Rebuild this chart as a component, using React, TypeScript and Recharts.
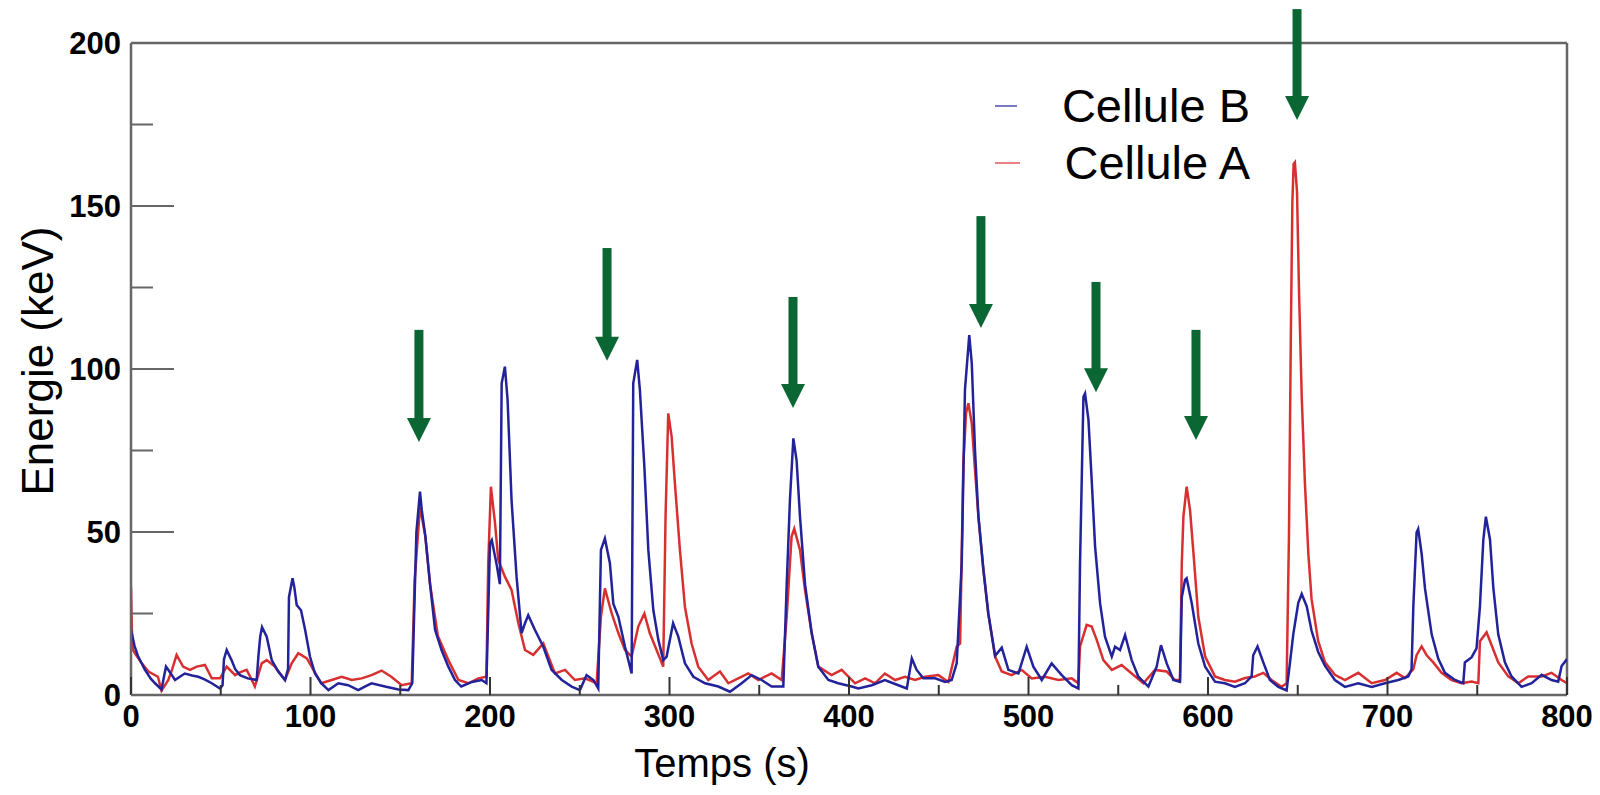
import React from "react";
import { LineChart, Line, XAxis, YAxis, ReferenceLine } from "recharts";

// Cellule B (blue) — time in s, energy in keV
const cellBTimes = [
  0, 2, 4, 7.8, 11, 13.4, 17, 18.5, 19.5, 21.7, 24.5, 27, 30, 34, 37.5, 41, 45, 49.6, 51, 51.8,
  53.3, 56, 58, 60.7, 65, 70, 71, 72, 73, 75.6, 78.4, 82, 85.8, 87.5, 88, 90, 91, 92.3, 94.7, 97,
  99.7, 102.5, 106, 110, 115.5, 121, 126.6, 130, 134, 141.5, 149, 154.5, 156.7, 158, 159, 161, 162,
  164, 166.6, 169.4, 173, 176.8, 180.5, 184, 190, 195.4, 198, 199, 200, 201, 203.7, 205.5, 206.5,
  208.3, 209.8, 212, 214.8, 217.6, 219.5, 221.3, 225, 229.7, 234.3, 240, 245.5, 250.1, 253.8,
  257.6, 260.3, 261.8, 264, 266.8, 268.7, 271.5, 275.2, 278.9, 279.8, 282, 283.5, 286, 288.2, 291,
  293.8, 296.5, 298.4, 302, 304.9, 308.6, 313.3, 319.8, 327.2, 333.7, 340.2, 345.8, 351.3, 356.9,
  363.4, 365.3, 367.1, 369, 370.8, 372.7, 375.5, 379.2, 382.9, 388.5, 394, 401.5, 405.2, 412.7,
  420, 427.5, 432.2, 435, 437.7, 441.4, 448, 453.5, 457.2, 460, 462.8, 464.6, 467, 468.4, 470.2,
  472.1, 474.9, 477.6, 481.4, 485.1, 488.8, 494.4, 499, 502.7, 507.4, 512.9, 518.5, 524.1, 527.8,
  528.7, 530.6, 531.5, 533.4, 535.2, 537.1, 539.9, 542.6, 546.4, 548.2, 551, 553.8, 557.5, 561.2,
  566.8, 571.4, 573.8, 577, 580.7, 584.4, 585.4, 587.2, 588.1, 591, 594.6, 598.4, 603.9, 609.4,
  615, 620.6, 624.3, 625.2, 627.6, 630.8, 634.5, 639.2, 643.8, 645.7, 647.5, 650.3, 652.2, 655,
  657.7, 661.4, 665.2, 670.7, 676.3, 683.7, 691.2, 698.6, 706, 711.6, 713.4, 714.4, 716.2, 717.1,
  719, 720.9, 724.6, 728.3, 732, 737.6, 742.2, 743.1, 746.9, 749.6, 751.5, 753.4, 754.8, 757.1,
  759, 761.7, 765.4, 769.1, 774.7, 780.3, 785.9, 791.4, 795.1, 797, 800,
];
const cellBValues = [
  20, 15, 11.8, 7.7, 5, 3.6, 1.7, 6, 8.7, 7, 4.6, 5.5, 6.6, 6, 5.6, 4.8, 3.6, 2, 3, 11,
  13.8, 10.7, 8, 6.1, 5.1, 4.6, 12, 18, 20.8, 17.9, 10.7, 7.2, 4.6, 8, 30, 35.8, 33, 27.6, 26, 20,
  11.8, 6.6, 3.6, 1.5, 3.6, 3, 1.5, 2.5, 3.6, 2.6, 1.7, 1.5, 3.6, 30, 50, 62.4, 56.7,
  48.6, 34, 20, 13.8, 8.7, 4.6, 2.6, 4, 4.6, 3.6, 25, 46.5, 47.5, 40, 34, 95.6,
  100.7, 90.5, 59.8, 36.3, 19, 22, 24.5, 20, 14.8, 7.7, 4.6, 2.6, 1.5, 6.1,
  4.6, 2, 44.5, 48, 40.4, 28, 24, 14.8, 6.6, 95.6, 102.8, 93.6, 70, 44.5, 26,
  16.9, 10.7, 11.8, 22, 17.9, 9.7, 5.6, 3.6, 2.6, 1, 3.6, 6.1, 4.6, 2.6,
  2.6, 34, 59.8, 78.7, 72, 54.7, 34, 19, 8.7, 4.6, 3.6, 2.6, 2, 3,
  4.6, 3, 2, 11.2, 7.7, 5.1, 5.1, 4, 4.6, 9.7, 40.4, 93.6, 110.4, 101.7, 75,
  54.7, 38.3, 25, 12, 14.5, 7.7, 6.6, 14.8, 8.7, 4.6, 9.7, 6.1, 3, 2,
  40, 91.5, 92.5, 84.4, 66, 45.5, 28, 17.9, 11.8, 14.8, 13.8, 18.4, 10.7, 5.6,
  2.6, 8.7, 15.3, 9.7, 4.6, 4, 30, 35.3, 35.8, 28, 15.8, 8.7, 4.1, 3.6,
  2.5, 3.6, 5.7, 12.2, 14.9, 10, 4.6, 2.5, 1.4, 10, 18.6, 28.3, 31, 27.2,
  19.7, 13.2, 8.9, 4.6, 2.5, 3.6, 2.5, 3.6, 4.6, 5.7, 7.9, 27.2, 49.8, 50.9,
  43.4, 32.6, 18.6, 11.1, 6.8, 4.6, 3.6, 10, 11.6, 14.3, 27.2, 47.7, 54.7, 47.7,
  32.6, 18.6, 10, 5.7, 2.5, 3.6, 6.2, 4.6, 4.1, 8.9, 11,
];

// Cellule A (red)
const cellATimes = [
  0, 0.5, 1, 2.2, 6, 9.7, 15, 17, 20.8, 23, 25.4, 29, 32.9, 36.6, 41.2, 45, 49.6, 53.3, 58, 61,
  64.4, 67, 69, 72.8, 75.6, 80.2, 85.8, 89.5, 93.2, 98, 101.6, 106, 111.8, 117.4, 123, 128.5, 134,
  139.6, 145, 150.8, 156.4, 158, 161, 164, 166.6, 171, 176.8, 182.4, 188, 193.5, 198, 199, 200.5,
  202.8, 204.6, 208.3, 212, 215.8, 219.5, 224.1, 229.7, 232.5, 236.2, 241.8, 247.3, 252.9, 259.4,
  261.8, 264, 267.8, 271.5, 275.2, 278.9, 282.6, 286, 289, 292.8, 296.5, 297.8, 299.3, 301.2, 303,
  305.8, 308.6, 312.3, 316, 321.6, 328.1, 332.8, 338.3, 343.9, 349.5, 356.9, 362.5, 365.3, 368,
  369.5, 372.7, 375.5, 379.2, 382.9, 390.3, 395.9, 403.4, 409, 414.5, 420, 425.7, 431.2, 436.8,
  442.4, 449.8, 455.4, 460, 461.9, 463.7, 465.2, 466.5, 468.4, 470.2, 472.1, 474.9, 477.6, 481.4,
  485.1, 490.6, 496.2, 501.8, 509.2, 516.7, 524.1, 527.8, 528.7, 532.4, 535.2, 538, 541.7, 546.4,
  551.9, 557.5, 564, 570.5, 577, 581.6, 584.4, 585.4, 586.3, 588.1, 590, 591.9, 594.6, 598.4,
  603.9, 609.4, 615, 620.6, 626.1, 630.8, 635.4, 641, 643.8, 645.1, 646.2, 647, 647.7, 648.4,
  649.6, 650.7, 652.2, 654, 655.9, 657.7, 661.4, 665.2, 670.7, 676.3, 683.7, 691.2, 698.6, 705.1,
  709.7, 714.4, 716.2, 719, 721.8, 725.5, 730.1, 735.7, 741.3, 746.9, 750.6, 751.5, 755.2, 757.9,
  761.7, 767.3, 772.9, 778.4, 785.9, 791.4, 797, 800,
];
const cellAValues = [
  33, 20, 14, 12.8, 9.7, 7.2, 5.6, 1.3, 4.6, 8, 12.3, 8.7, 7.7, 8.7, 9.2, 5.1, 5.1, 8.7, 6.1, 7,
  7.7, 5, 2.6, 9.7, 10.7, 8.7, 4.6, 9.7, 12.8, 11.2, 7.7, 3.6, 4.6, 5.6, 4.6, 5.1, 6.1,
  7.5, 5.6, 3, 3.6, 35, 57.8, 48.6, 34, 18, 10.7, 4.6, 3.6, 5.1, 5.6, 40, 63.9,
  52.7, 41.4, 36.3, 32.2, 22, 13.8, 12.3, 15.8, 11.8, 6.6, 7.7, 4.6, 5.1, 3.6,
  24, 32.7, 25, 19, 13.8, 11.8, 21, 25, 19, 13.8, 8.7, 54.7, 86.4, 79.2, 65,
  44.5, 27, 15.8, 8.7, 4.6, 7.2, 3.6, 5.1, 6.6, 4.6, 6.6, 4.6, 24, 48.6,
  51, 44.5, 32.2, 19, 8.7, 6.1, 7.7, 3.6, 5.1, 3.6, 6.6, 4.6, 5.6, 4.6,
  5.6, 6.1, 4, 14.8, 15.8, 71, 86.4, 89.5, 83.3, 69, 54.7, 38.3, 25, 11.8,
  7.2, 6.1, 7.7, 5.1, 5.6, 4.6, 5.1, 3.6, 14.8, 21.5, 21, 16.9, 10.7, 7.7,
  9.2, 6.6, 3.6, 7.7, 7.2, 4.6, 4.6, 40.4, 54.7, 63.9, 56.7, 43.5, 24, 11.8,
  5.7, 4.6, 4.1, 5.2, 5.7, 6.8, 4.6, 2.5, 3.6, 48.8, 113, 151, 162.9, 163.4,
  154.3, 124, 91.8, 65, 43.4, 29.4, 16.5, 10, 6.2, 4.6, 6.8, 3.6, 4.6, 6.8,
  5.2, 7.9, 12.2, 14.9, 12.2, 10, 6.8, 4.6, 3.6, 4.1, 3.6, 16.5, 19.2, 15.4,
  10, 5.7, 3.6, 5.7, 5.7, 6.8, 4.6, 3.6,
];

const timeTicks = [0, 50, 100, 150, 200, 250, 300, 350, 400, 450, 500, 550, 600, 650, 700, 750, 800];
const energyTicks = [0, 25, 50, 75, 100, 125, 150, 175, 200];
const legendNames = ["Cellule B", "Cellule A"];

// green arrows: time, top of shaft and tip, in data units
const arrowTimes = [160.4, 265.2, 368.8, 473.5, 537.6, 593.3, 649.6];
const arrowTops = [112, 137.1, 122.1, 146.9, 126.7, 112, 210.4];
const arrowTips = [77.6, 102.5, 88, 112.6, 92.9, 78.2, 176.4];

const BLUE = "#22229a";
const RED = "#d83030";
const GREEN = "#0a6633";
const AXIS = "#666666";
const FONT = "'Liberation Sans', Arial, Helvetica, sans-serif";

const cellB = cellBTimes.map((t, i) => ({ t, e: cellBValues[i] }));
const cellA = cellATimes.map((t, i) => ({ t, e: cellAValues[i] }));
const legendColors = [BLUE, RED];

function EnergyTick(props: any) {
  const { x, y, payload } = props;
  const v = payload.value;
  const major = v % 50 === 0;
  return (
    <g>
      <line x1={x} x2={x + (major ? 43 : 22)} y1={y} y2={y} stroke={AXIS} strokeWidth={2} />
      {major && (
        <text x={x - 10} y={y} dy="0.36em" textAnchor="end" fontFamily={FONT} fontWeight="bold" fontSize={31} fill="#000">
          {v}
        </text>
      )}
    </g>
  );
}

function TimeTick(props: any) {
  const { x, y, payload } = props;
  const v = payload.value;
  const major = v % 100 === 0;
  return (
    <g>
      <line x1={x} x2={x} y1={y} y2={y - (major ? 18 : 10)} stroke="#333" strokeWidth={2} />
      {major && (
        <text x={x} y={y + 21} dy="0.36em" textAnchor="middle" fontFamily={FONT} fontWeight="bold" fontSize={31} fill="#000">
          {v}
        </text>
      )}
    </g>
  );
}

function Arrow(props: any) {
  const { x1, y1, x2, y2 } = props;
  const head = 24;
  const half = 12;
  const shaft = 9;
  return (
    <g>
      <rect x={x1 - shaft / 2} y={y1} width={shaft} height={Math.max(0, y2 - head - y1 + 1)} fill={GREEN} />
      <polygon points={`${x2 - half},${y2 - head} ${x2 + half},${y2 - head} ${x2},${y2}`} fill={GREEN} />
    </g>
  );
}

export default function App() {
  return (
    <div style={{ position: "absolute", left: 0, top: 0, width: 1600, height: 795, background: "#fff" }}>
      <LineChart width={1600} height={795} margin={{ top: 43, right: 33, bottom: 60, left: 71 }}>
        <XAxis
          type="number"
          dataKey="t"
          domain={[0, 800]}
          ticks={timeTicks}
          allowDataOverflow
          height={40}
          tickSize={0}
          tickMargin={0}
          tickLine={false}
          tick={<TimeTick />}
          axisLine={{ stroke: AXIS, strokeWidth: 2.5 }}
          interval={0}
        />
        <YAxis
          type="number"
          domain={[0, 200]}
          ticks={energyTicks}
          allowDataOverflow
          width={60}
          tickSize={0}
          tickMargin={0}
          tickLine={false}
          tick={<EnergyTick />}
          axisLine={{ stroke: AXIS, strokeWidth: 2.5 }}
          interval={0}
        />
        <ReferenceLine y={200} stroke={AXIS} strokeWidth={2.5} />
        <ReferenceLine x={800} stroke={AXIS} strokeWidth={2.5} />
        <Line
          data={cellA}
          dataKey="e"
          name="Cellule A"
          type="linear"
          stroke={RED}
          strokeWidth={2.5}
          dot={false}
          isAnimationActive={false}
        />
        <Line
          data={cellB}
          dataKey="e"
          name="Cellule B"
          type="linear"
          stroke={BLUE}
          strokeWidth={2.5}
          dot={false}
          isAnimationActive={false}
        />
        {arrowTimes.map((t, i) => (
          <ReferenceLine
            key={t}
            segment={[
              { x: t, y: arrowTops[i] },
              { x: t, y: arrowTips[i] },
            ]}
            ifOverflow="visible"
            shape={(p: any) => <Arrow {...p} />}
          />
        ))}
      </LineChart>
      <div style={{ position: "absolute", left: 975, top: 77, width: 275, background: "#fff" }}>
        {legendNames.map((name, i) => (
          <div key={name} style={{ display: "flex", alignItems: "center", height: 57, whiteSpace: "nowrap" }}>
            <div style={{ width: 29, height: 2, background: legendColors[i], opacity: 0.6, marginLeft: 20, marginRight: 45 }} />
            <span style={{ fontFamily: FONT, fontSize: 47, color: "#000", lineHeight: "57px" }}>{name}</span>
          </div>
        ))}
      </div>
      <div
        style={{
          position: "absolute",
          left: 38,
          top: 361,
          transform: "translate(-50%, -50%) rotate(-90deg)",
          fontFamily: FONT,
          fontSize: 44,
          whiteSpace: "nowrap",
          color: "#000",
        }}
      >
        Energie (keV)
      </div>
      <div
        style={{
          position: "absolute",
          left: 722,
          top: 763,
          transform: "translate(-50%, -50%)",
          fontFamily: FONT,
          fontSize: 40,
          whiteSpace: "nowrap",
          color: "#000",
        }}
      >
        Temps (s)
      </div>
    </div>
  );
}
